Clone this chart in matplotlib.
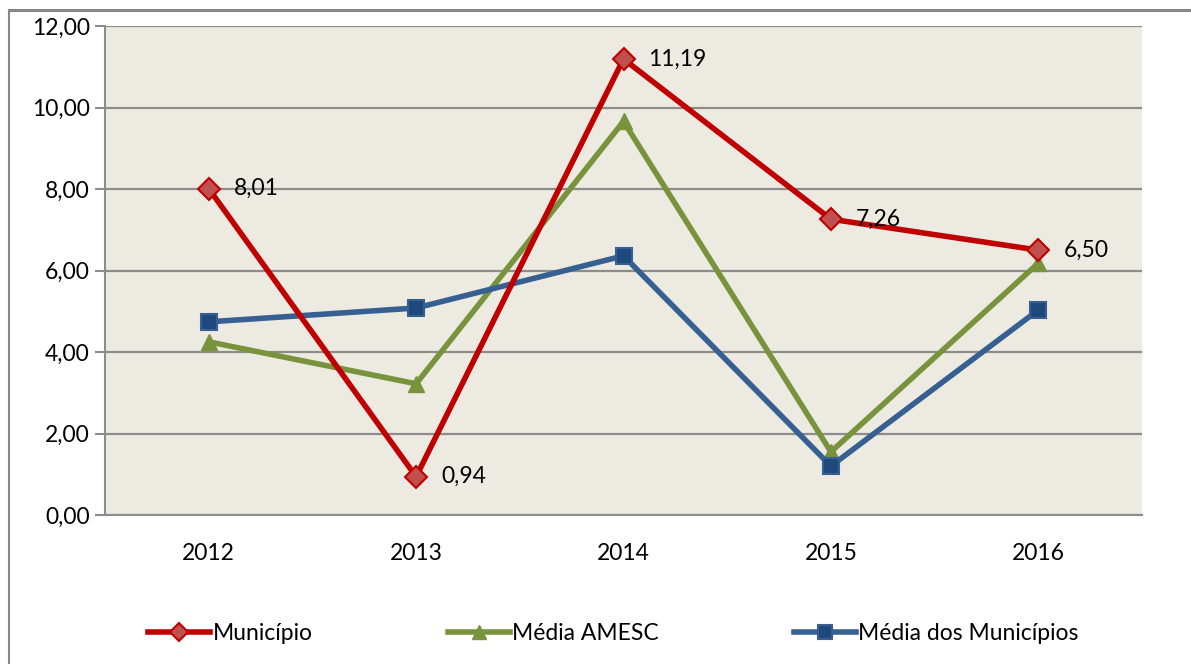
import numpy as np
import matplotlib.pyplot as plt
from matplotlib.lines import Line2D

#Data
anos = ["2012", "2013", "2014", "2015", "2016"]
municipio = [8.01, 0.94, 11.19, 7.26, 6.50]
media_amesc = [4.25, 3.22, 9.66, 1.55, 6.18]
media_municipios = [4.74, 5.08, 6.36, 1.20, 5.03]
rotulos = ["8,01", "0,94", "11,19", "7,26", "6,50"]

plt.rcParams['font.family'] = ['Lato', 'DejaVu Sans']

fig = plt.figure(figsize=(11.91, 6.64), dpi=100)
ax = fig.add_axes([105/1191, 1-515/664, 1037/1191, 489/664])

#Outer frame of the chart
fig.add_artist(Line2D([9/1191, 1.0], [1-10/664, 1-10/664], color='#878787', lw=2.2))
fig.add_artist(Line2D([9/1191, 9/1191], [0, 1-10/664], color='#878787', lw=1.5))

x = np.arange(len(anos)) + 0.5

ax.set_facecolor('#EDEBE1')
ax.set_xlim(0, 5)
ax.set_ylim(0, 12)
ax.set_yticks(np.arange(0, 13, 2))
ax.set_yticklabels([("%.2f" % v).replace('.', ',') for v in np.arange(0, 13, 2)])
ax.set_xticks(x)
ax.set_xticklabels(anos)
ax.yaxis.grid(True, color='#8C8C8C', lw=1.6)
ax.set_axisbelow(True)
for s in ['top', 'right']:
    ax.spines[s].set_visible(False)
ax.spines['left'].set_color('#8C8C8C')
ax.spines['bottom'].set_color('#8C8C8C')
ax.spines['left'].set_linewidth(1.5)
ax.spines['bottom'].set_linewidth(1.5)
ax.tick_params(axis='y', length=7, color='#8C8C8C', width=1.5, labelsize=16.5, pad=4)
ax.tick_params(axis='x', length=0, labelsize=16.5, pad=20)

#Lines
l1, = ax.plot(x, municipio, '-D', color='#C00000', lw=4, markersize=11,
              markerfacecolor='#C0504D', markeredgecolor='#C00000', markeredgewidth=1.5, zorder=3)
l2, = ax.plot(x, media_amesc, '-^', color='#77933C', lw=4, markersize=12,
              markerfacecolor='#77933C', markeredgecolor='#77933C', zorder=2)
l3, = ax.plot(x, media_municipios, '-s', color='#376092', lw=4, markersize=12,
              markerfacecolor='#1F497D', markeredgecolor='#376092', markeredgewidth=1.5, zorder=2)

#Data labels
for xi, yi, t in zip(x, municipio, rotulos):
    ax.annotate(t, (xi, yi), xytext=(18, 0), textcoords='offset points',
                va='center', ha='left', fontsize=16.5, zorder=5)

#Legend
leg = fig.legend([l1, l2, l3], ["Município", "Média AMESC", "Média dos Municípios"],
                 loc='center', bbox_to_anchor=(0.515, 1-634/664), ncol=3, frameon=False,
                 fontsize=16.5, handlelength=2.7, handletextpad=0.1, columnspacing=5.9,
                 markerscale=0.8)

plt.savefig("out.png", dpi=100)
